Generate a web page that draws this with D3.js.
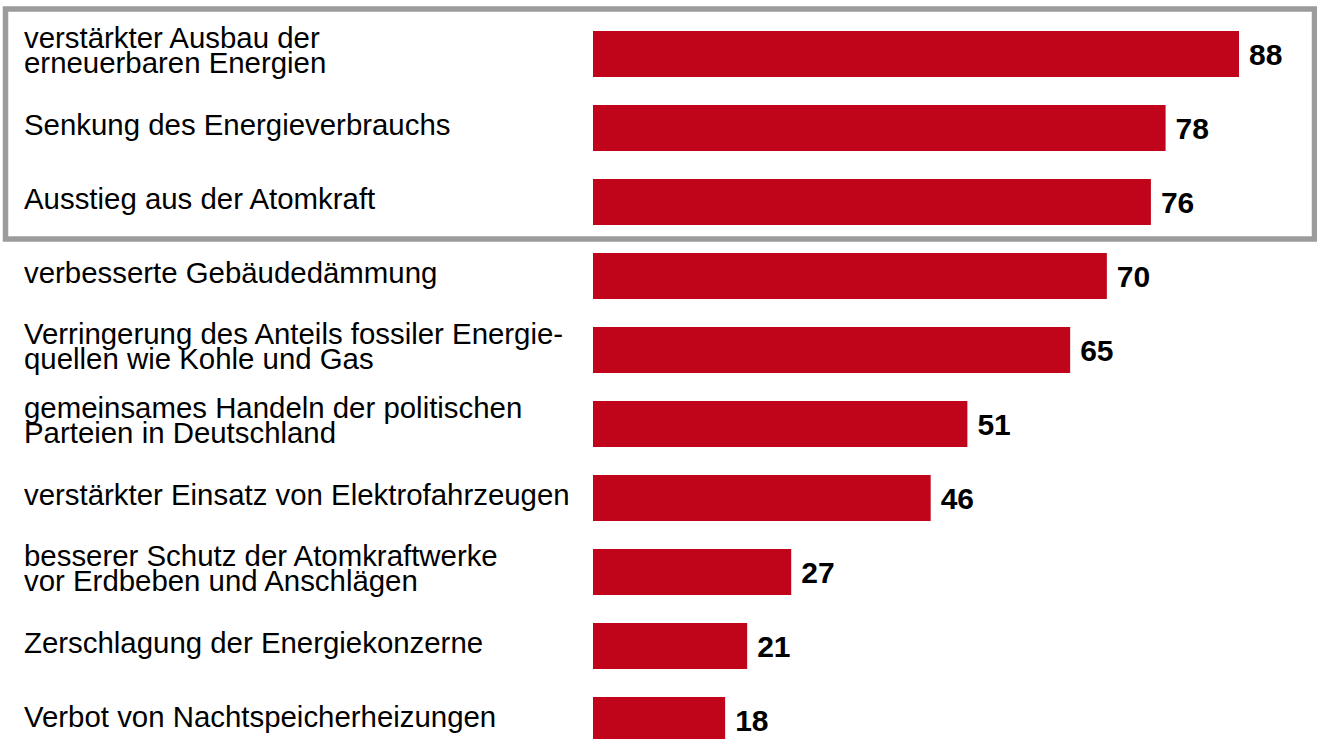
<!DOCTYPE html>
<html>
<head>
<meta charset="utf-8">
<script src="https://cdn.jsdelivr.net/npm/d3@7"></script>
<style>
  body { margin: 0; background: #fff; }
  svg { display: block; }
  .label { font-family: "Liberation Sans", Arial, sans-serif; font-size: 29.4px; fill: #000; }
  .value { font-family: "Liberation Sans", Arial, sans-serif; font-size: 30px; font-weight: bold; fill: #000; }
</style>
</head>
<body>
<div class="chart"></div>
<script>
// Labels (line breaks as in the original)
const categories = [
    ["verstärkter Ausbau der", "erneuerbaren Energien"],
    ["Senkung des Energieverbrauchs"],
    ["Ausstieg aus der Atomkraft"],
    ["verbesserte Gebäudedämmung"],
    ["Verringerung des Anteils fossiler Energie-", "quellen wie Kohle und Gas"],
    ["gemeinsames Handeln der politischen", "Parteien in Deutschland"],
    ["verstärkter Einsatz von Elektrofahrzeugen"],
    ["besserer Schutz der Atomkraftwerke", "vor Erdbeben und Anschlägen"],
    ["Zerschlagung der Energiekonzerne"],
    ["Verbot von Nachtspeicherheizungen"]
];

const values = [88, 78, 76, 70, 65, 51, 46, 27, 21, 18];

// first three items are framed
const highlighted = 3;

const width = 1317;
const height = 739;

const barStart = 593;
const barColor = "#c0041a";

const svg = d3.select(".chart")
    .append("svg")
    .attr("width", width)
    .attr("height", height);

// one unit = ~7.34 px
let xScale = d3.scaleLinear()
    .domain([0, 88])
    .range([barStart, 1239]);

// rows are 74 px apart, bars 46 px high
let yScale = d3.scaleBand()
    .domain(d3.range(categories.length))
    .range([31, 31 + 74 * categories.length - 28])
    .paddingInner(28 / 74)
    .paddingOuter(0);

const bh = yScale.bandwidth();

const rows = svg.append("g")
    .selectAll("g")
    .data(values)
    .enter()
    .append("g");

rows.append("rect")
    .attr("x", xScale(0))
    .attr("y", (d, i) => yScale(i))
    .attr("width", d => xScale(d) - xScale(0))
    .attr("height", bh)
    .attr("fill", barColor);

rows.append("text")
    .attr("class", "value")
    .attr("x", d => xScale(d) + 10)
    .attr("y", (d, i) => yScale(i) + bh / 2 + 11)
    .text(d => d);

// category labels
rows.append("text")
    .attr("class", "label")
    .attr("x", 24)
    .each(function (d, i) {
        const lines = categories[i];
        const mid = yScale(i) + bh / 2;
        const t = d3.select(this);
        if (lines.length === 1) {
            t.append("tspan").attr("x", 24).attr("y", mid + 7).text(lines[0]);
        } else {
            t.append("tspan").attr("x", 24).attr("y", mid - 6).text(lines[0]);
            t.append("tspan").attr("x", 24).attr("y", mid + 19).text(lines[1]);
        }
    });

// grey frame round the top three items
const frameBottom = yScale(highlighted - 1) + bh + 14;
svg.append("rect")
    .attr("x", 5.5)
    .attr("y", 9)
    .attr("width", 1309)
    .attr("height", frameBottom - 9)
    .attr("fill", "none")
    .attr("stroke", "#9c9c9c")
    .attr("stroke-width", 5.5);
</script>
</body>
</html>
